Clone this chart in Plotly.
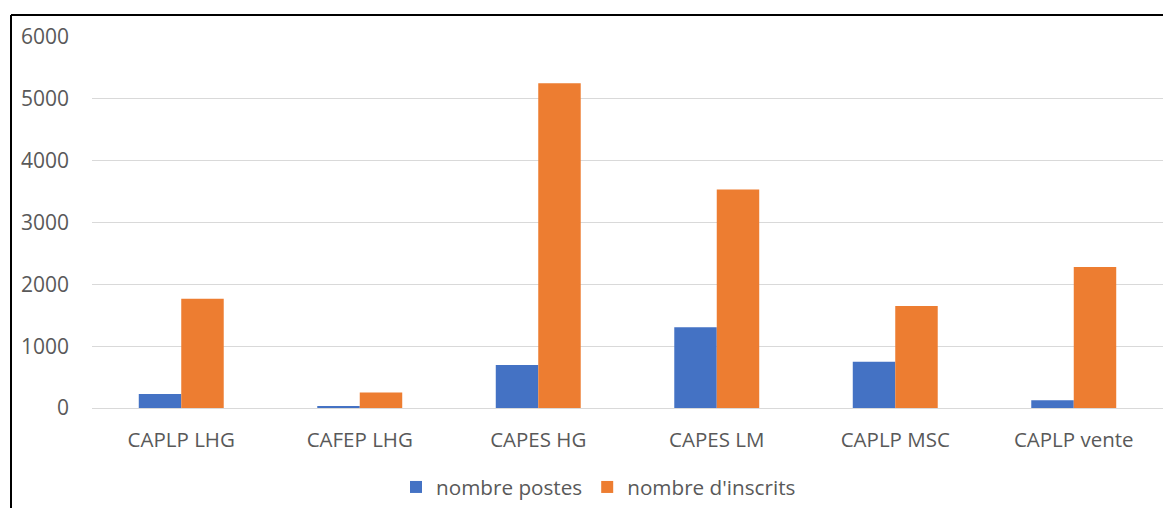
import plotly.graph_objects as go

categories = ["CAPLP LHG", "CAFEP LHG", "CAPES HG", "CAPES LM", "CAPLP MSC", "CAPLP vente"]
nombre_postes = [225, 30, 694, 1307, 748, 125]
nombre_inscrits = [1767, 250, 5254, 3532, 1650, 2281]
y_ticks = [0, 1000, 2000, 3000, 4000, 5000, 6000]

# page body has an 8px margin: work in window pixels, convert to figure pixels
OFF = 8
W, H = 1171 - OFF, 508 - OFF
L, R, T, B = 92 - OFF, 8, 37 - OFF, 100
pw, ph = W - L - R, H - T - B

def px_x(x):
    return (x - OFF - L) / pw

def px_y(y):
    return (H - B - (y - OFF)) / ph

fig = go.Figure()
fig.add_trace(go.Bar(x=categories, y=nombre_postes, name="nombre postes",
                     marker=dict(color="#4472C4", line=dict(width=0))))
fig.add_trace(go.Bar(x=categories, y=nombre_inscrits, name="nombre d'inscrits",
                     marker=dict(color="#ED7D31", line=dict(width=0))))

font_family = "Open Sans"
fig.update_layout(
    width=W, height=H,
    margin=dict(l=L, r=R, t=T, b=B, autoexpand=False),
    paper_bgcolor="white", plot_bgcolor="white",
    barmode="group", bargap=0.524, bargroupgap=0,
    font=dict(family=font_family, size=20, color="#595959"),
    showlegend=True,
    legend=dict(orientation="h", x=px_x(396), xanchor="left",
                y=px_y(487), yanchor="middle",
                font=dict(size=20.7, color="#595959"),
                bgcolor="rgba(0,0,0,0)"),
    xaxis=dict(showgrid=False, showline=True, linecolor="#D9D9D9", linewidth=1,
               ticks="", tickfont=dict(size=20.5, color="#595959"),
               ticklabelstandoff=13),
    yaxis=dict(range=[0, 6000], tickvals=y_ticks, showgrid=True,
               gridcolor="#D9D9D9", gridwidth=1, zeroline=False,
               showline=False, ticks="",
               tickfont=dict(size=21, color="#595959"),
               ticklabelstandoff=22),
    shapes=[
        dict(type="line", xref="paper", yref="paper",
             x0=px_x(11), x1=px_x(1175), y0=px_y(15), y1=px_y(15),
             line=dict(color="black", width=2)),
        dict(type="line", xref="paper", yref="paper",
             x0=px_x(11), x1=px_x(11), y0=px_y(15), y1=px_y(512),
             line=dict(color="black", width=2)),
    ],
)

fig.write_html("out.html")
